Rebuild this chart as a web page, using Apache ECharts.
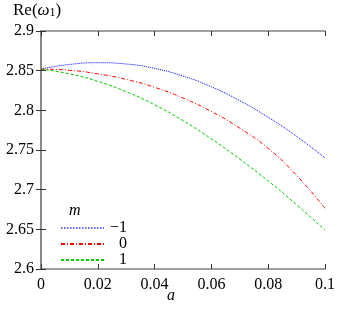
<!DOCTYPE html>
<html>
<head>
<meta charset="utf-8">
<script src="https://cdn.jsdelivr.net/npm/echarts@6/dist/echarts.min.js"></script>
<style>
html,body{margin:0;padding:0;background:#fff;}
#chart{width:341px;height:315px;}
</style>
</head>
<body>
<div id="chart"></div>
<script>
// a values
const aValues = [0, 0.01, 0.02, 0.03, 0.04, 0.05, 0.06, 0.07, 0.08, 0.09, 0.1];
// Re(omega_1) for m = -1, 0, 1
const mMinus1 = [2.852, 2.8578, 2.860, 2.8584, 2.8528, 2.8432, 2.8296, 2.8122, 2.7912, 2.7672, 2.740];
const mZero   = [2.852, 2.8505, 2.846, 2.839, 2.829, 2.8155, 2.7985, 2.7775, 2.752, 2.718, 2.6765];
const mPlus1  = [2.852, 2.846, 2.8365, 2.8235, 2.807, 2.787, 2.764, 2.7385, 2.711, 2.681, 2.649];
const seriesNames = ['\u22121', '0', '1'];
const xTicks = ['0', '0.02', '0.04', '0.06', '0.08', '0.1'];
const yTicks = ['2.6', '2.65', '2.7', '2.75', '2.8', '2.85', '2.9'];

const FONT = 'Liberation Serif';
const frame = { show: true, lineStyle: { color: '#808080', width: 1.5 } };
const ticks = { show: true, inside: true, length: 5, lineStyle: { color: '#333', width: 1 } };

function pairs(vals) { return aValues.map((a, i) => [a, vals[i]]); }

const chart = echarts.init(document.getElementById('chart'), null, { renderer: 'canvas' });
chart.setOption({
  animation: false,
  backgroundColor: '#fff',
  color: ['#0000ff', '#ff0000', '#00cc00'],
  grid: { left: 41, right: 16, top: 31, bottom: 46, containLabel: false },
  xAxis: [
    { type: 'value', min: 0, max: 0.1, interval: 0.02, position: 'bottom',
      axisLine: frame, axisTick: ticks, splitLine: { show: false },
      axisLabel: { fontFamily: FONT, fontSize: 16, color: '#000', margin: 8,
        formatter: v => xTicks[Math.round(v / 0.02)] } },
    { type: 'value', min: 0, max: 0.1, interval: 0.02, position: 'top',
      axisLine: frame, axisTick: ticks, splitLine: { show: false }, axisLabel: { show: false } }
  ],
  yAxis: [
    { type: 'value', min: 2.6, max: 2.9, interval: 0.05, position: 'left',
      axisLine: frame, axisTick: ticks, splitLine: { show: false },
      axisLabel: { fontFamily: FONT, fontSize: 16, color: '#000', margin: 7,
        formatter: v => yTicks[Math.round((v - 2.6) / 0.05)] } },
    { type: 'value', min: 2.6, max: 2.9, interval: 0.05, position: 'right',
      axisLine: frame, axisTick: ticks, splitLine: { show: false }, axisLabel: { show: false } }
  ],
  legend: {
    orient: 'vertical', left: 55, top: 215, itemWidth: 43, itemHeight: 16, itemGap: 0,
    data: [
      { name: seriesNames[0], lineStyle: { color: '#3333ff', width: 1.5, type: [1.5, 1.5] } },
      { name: seriesNames[1] },
      { name: seriesNames[2] }
    ],
    itemStyle: { opacity: 0 },
    formatter: name => '{r|' + name + '}',
    textStyle: { fontFamily: FONT, fontSize: 16, color: '#000', lineHeight: 16,
      rich: { r: { width: 18, height: 16, lineHeight: 16, align: 'right', fontFamily: FONT, fontSize: 16 } } }
  },
  graphic: [
    { type: 'text', left: 13, top: 2,
      style: { text: '{n|Re(}{w|\u03c9}{s|1}{n|)}', fill: '#000',
        rich: {
          n: { fontFamily: FONT, fontSize: 17, verticalAlign: 'bottom', lineHeight: 20 },
          w: { fontFamily: FONT, fontSize: 17, fontStyle: 'italic', verticalAlign: 'bottom', lineHeight: 20 },
          s: { fontFamily: FONT, fontSize: 12, verticalAlign: 'bottom', lineHeight: 20 }
        } } },
    { type: 'text', left: 69, top: 203,
      style: { text: 'm', fontFamily: FONT, fontSize: 16, fontStyle: 'italic', fill: '#000' } },
    { type: 'text', left: 167, top: 288,
      style: { text: 'a', fontFamily: FONT, fontSize: 16, fontStyle: 'italic', fill: '#000' } }
  ],
  series: [
    { name: seriesNames[0], type: 'line', data: pairs(mMinus1), smooth: true, symbol: 'none',
      lineStyle: { color: '#0000ff', width: 1, type: [1, 1] }, itemStyle: { color: '#0000ff' } },
    { name: seriesNames[1], type: 'line', data: pairs(mZero), smooth: true, symbol: 'none',
      lineStyle: { color: '#ff0000', width: 1, type: [4, 2, 1, 2] }, itemStyle: { color: '#ff0000' } },
    { name: seriesNames[2], type: 'line', data: pairs(mPlus1), smooth: true, symbol: 'none',
      lineStyle: { color: '#00cc00', width: 1, type: [3, 2] }, itemStyle: { color: '#00cc00' } }
  ]
});
</script>
</body>
</html>
